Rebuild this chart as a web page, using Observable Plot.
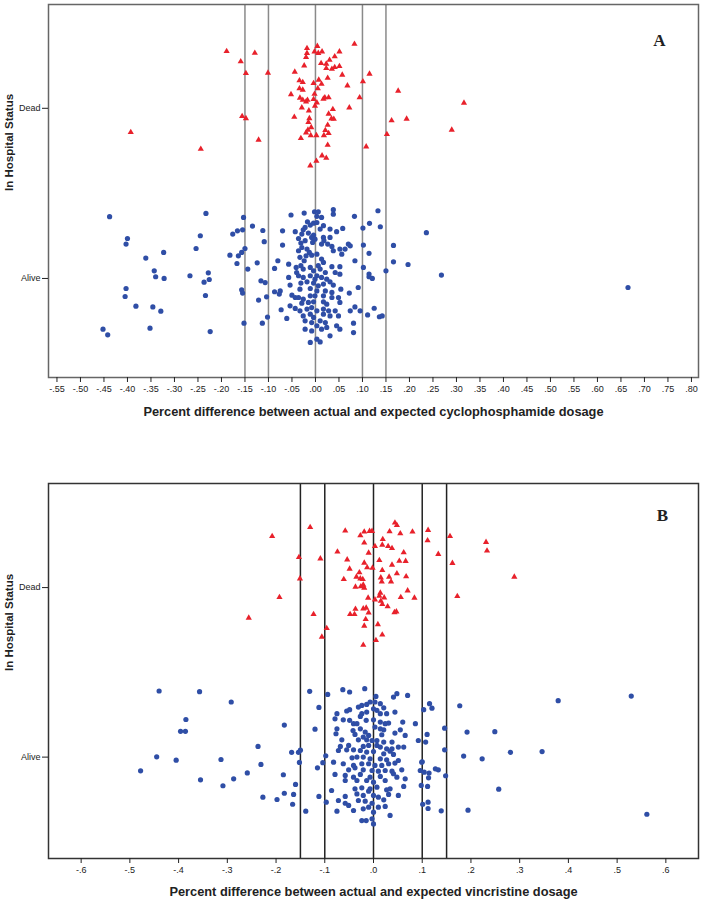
<!DOCTYPE html>
<html><head><meta charset="utf-8">
<script src="https://cdn.jsdelivr.net/npm/d3@7"></script>
<script src="https://cdn.jsdelivr.net/npm/@observablehq/plot@0.6"></script>
<style>
body{margin:0;background:#fff;}
#chart svg{display:block;}
</style></head><body><div id="chart"></div>
<script>
const statusTicks = [0, 1];
const statusLabels = ["Alive", "Dead"];
const refLines = [-0.15, -0.10, 0, 0.10, 0.15];
const ticksA = [-0.55,-0.50,-0.45,-0.40,-0.35,-0.30,-0.25,-0.20,-0.15,-0.10,-0.05,0,0.05,0.10,0.15,0.20,0.25,0.30,0.35,0.40,0.45,0.50,0.55,0.60,0.65,0.70,0.75,0.80];
const ticksB = [-0.6,-0.5,-0.4,-0.3,-0.2,-0.1,0,0.1,0.2,0.3,0.4,0.5,0.6];
const titleA = "Percent difference between actual and expected cyclophosphamide dosage";
const titleB = "Percent difference between actual and expected vincristine dosage";
const yTitle = "In Hospital Status";

// [value, jitter within status band]
const deadA = [[-0.189,0.335],[-0.129,0.325],[-0.159,0.275],[-0.148,0.206],[-0.101,0.208],[-0.393,-0.141],[-0.244,-0.239],[-0.156,-0.047],[-0.148,-0.059],[-0.121,-0.186],[-0.044,0.214],[-0.052,0.082],[-0.045,-0.051],[-0.018,0.353],[-0.018,0.324],[-0.020,0.300],[-0.024,0.251],[0.004,0.365],[-0.002,0.333],[0.006,0.324],[0.014,0.333],[0.012,0.265],[0.023,0.261],[0.030,0.284],[0.041,0.304],[0.051,0.333],[0.023,0.235],[0.035,0.231],[0.041,0.241],[0.051,0.247],[0.057,0.196],[0.083,0.378],[-0.034,0.163],[-0.027,0.153],[-0.004,0.147],[0.007,0.167],[0.013,0.143],[0.026,0.178],[-0.034,0.116],[-0.027,0.108],[0.005,0.116],[-0.002,0.084],[-0.033,0.061],[-0.027,0.049],[-0.020,0.039],[-0.017,0.049],[-0.004,0.053],[0.003,0.033],[-0.001,0.014],[0.017,0.055],[0.020,0.063],[0.028,0.063],[-0.029,0.004],[-0.014,-0.014],[-0.013,-0.059],[-0.015,-0.082],[0.037,-0.006],[0.028,-0.033],[0.034,-0.061],[0.039,-0.063],[0.026,-0.098],[-0.009,-0.112],[-0.016,-0.127],[-0.020,-0.143],[-0.010,-0.159],[0.002,-0.159],[0.021,-0.129],[0.018,-0.159],[0.028,-0.147],[-0.031,-0.176],[0.026,-0.216],[0.014,-0.278],[0.023,-0.292],[0.002,-0.310],[-0.011,-0.337],[0.068,0.133],[0.072,0.004],[0.094,0.063],[0.101,0.157],[0.108,-0.225],[0.115,0.202],[0.176,0.102],[0.316,0.032],[0.162,-0.072],[0.194,-0.062],[0.152,-0.153],[0.290,-0.127]];

const aliveA = [[-0.438,0.363],[-0.233,0.382],[-0.400,0.235],[-0.403,0.202],[-0.323,0.153],[-0.245,0.251],[-0.254,0.176],[-0.361,0.120],[-0.343,0.045],[-0.340,0.010],[-0.322,0.000],[-0.267,0.016],[-0.228,0.033],[-0.226,-0.006],[-0.237,-0.022],[-0.403,-0.059],[-0.405,-0.106],[-0.234,-0.100],[-0.382,-0.163],[-0.346,-0.167],[-0.329,-0.192],[-0.452,-0.298],[-0.442,-0.331],[-0.352,-0.292],[-0.224,-0.312],[-0.153,0.359],[-0.176,0.261],[-0.166,0.280],[-0.155,0.286],[-0.134,0.308],[-0.112,0.282],[-0.109,0.216],[-0.182,0.137],[-0.164,0.133],[-0.157,0.153],[-0.150,0.176],[-0.167,0.088],[-0.144,0.055],[-0.124,0.092],[-0.116,-0.014],[-0.107,-0.024],[-0.157,-0.067],[-0.155,-0.086],[-0.121,-0.127],[-0.104,-0.108],[-0.102,-0.227],[-0.152,-0.263],[-0.113,-0.263],
[-0.052,0.373],[-0.024,0.384],[-0.002,0.392],[0.006,0.392],[0.038,0.404],[0.038,0.378],[0.083,0.365],[0.003,0.365],[0.013,0.359],[-0.017,0.333],[-0.004,0.325],[-0.011,0.314],[-0.022,0.300],[-0.026,0.286],[0.003,0.329],[0.017,0.310],[0.010,0.290],[-0.070,0.280],[-0.043,0.275],[0.031,0.290],[0.058,0.294],[0.045,0.275],[0.101,0.296],[-0.029,0.261],[-0.015,0.267],[-0.004,0.255],[-0.008,0.241],[-0.001,0.231],[0.017,0.241],[0.031,0.241],[-0.070,0.196],[-0.036,0.235],[-0.022,0.222],[-0.031,0.208],[-0.006,0.212],[0.018,0.222],[0.013,0.202],[0.026,0.202],[0.035,0.188],[0.070,0.202],[0.074,0.192],[0.063,0.173],[0.052,0.173],[0.102,0.196],[-0.029,0.182],[-0.036,0.163],[-0.018,0.173],[-0.013,0.153],[-0.020,0.133],[-0.008,0.137],[-0.033,0.124],[0.003,0.143],[0.056,0.143],[0.038,0.163],[-0.080,0.104],[-0.057,0.084],[-0.024,0.104],[0.013,0.114],[0.017,0.094],[0.084,0.104],[0.102,0.065],[-0.087,0.059],[-0.041,0.065],[-0.031,0.075],[-0.026,0.055],[-0.011,0.065],[0.006,0.075],[-0.004,0.045],[0.010,0.055],[0.035,0.069],[0.052,0.069],[0.021,0.035],[0.003,0.016],[-0.057,0.006],[-0.040,0.035],[-0.036,0.016],[-0.026,0.006],[-0.011,0.016],[-0.001,-0.004],[0.013,0.006],[0.024,-0.004],[0.042,0.035],[0.052,0.025],[-0.054,-0.039],[-0.031,-0.027],[-0.018,-0.020],[-0.004,-0.027],[0.006,-0.043],[0.017,-0.033],[0.031,-0.020],[0.038,-0.039],[-0.087,-0.078],[-0.075,-0.073],[-0.077,-0.092],[-0.033,-0.063],[-0.011,-0.059],[0.003,-0.073],[0.021,-0.073],[0.035,-0.082],[0.054,-0.063],[0.072,-0.086],[0.091,-0.053],[-0.050,-0.098],[-0.043,-0.112],[-0.036,-0.112],[-0.026,-0.122],[-0.011,-0.102],[-0.001,-0.102],[0.017,-0.102],[0.035,-0.112],[0.049,-0.112],[-0.029,-0.145],[-0.015,-0.141],[-0.004,-0.137],[0.017,-0.137],[0.024,-0.151],[0.052,-0.141],[0.074,-0.190],[-0.054,-0.161],[-0.043,-0.176],[-0.033,-0.190],[-0.018,-0.180],[-0.008,-0.171],[0.003,-0.190],[0.017,-0.180],[0.028,-0.190],[0.042,-0.190],[0.084,-0.167],[-0.073,-0.184],[-0.061,-0.235],[-0.026,-0.220],[-0.011,-0.210],[-0.004,-0.229],[0.017,-0.210],[0.031,-0.220],[0.049,-0.220],[0.095,-0.190],[-0.022,-0.249],[-0.008,-0.259],[0.010,-0.249],[0.021,-0.259],[0.003,-0.278],[0.045,-0.278],[0.081,-0.263],[-0.022,-0.298],[-0.008,-0.308],[0.013,-0.298],[0.024,-0.288],[0.031,-0.337],[0.052,-0.298],[-0.011,-0.376],[0.003,-0.357],[0.010,-0.373],[0.081,-0.318],
[0.133,0.398],[0.115,0.324],[0.138,0.304],[0.236,0.269],[0.114,0.147],[0.166,0.194],[0.166,0.098],[0.197,0.082],[0.150,0.045],[0.114,0.026],[0.114,0.010],[0.121,0.000],[0.268,0.020],[0.665,-0.053],[0.111,-0.214],[0.125,-0.175],[0.136,-0.225],[0.142,-0.220]];

const deadB = [[-0.208,0.303],[-0.130,0.356],[-0.058,0.335],[-0.027,0.307],[-0.019,0.329],[-0.008,0.333],[-0.019,0.264],[-0.074,0.211],[-0.153,0.179],[-0.109,0.171],[-0.010,0.205],[-0.054,0.165],[-0.019,0.146],[-0.013,0.118],[-0.049,0.110],[-0.029,0.089],[-0.035,0.063],[-0.027,0.053],[-0.022,0.049],[-0.061,0.049],[-0.151,0.053],[-0.037,0.004],[-0.026,0.006],[-0.021,0.016],[-0.019,-0.002],[-0.193,-0.057],[-0.011,-0.061],[-0.256,-0.179],[-0.123,-0.157],[-0.048,-0.157],[-0.039,-0.157],[-0.037,-0.126],[-0.021,-0.124],[-0.015,-0.120],[-0.010,-0.148],[-0.016,-0.187],[-0.019,-0.226],[-0.096,-0.240],[-0.106,-0.291],[-0.021,-0.339],
[-0.003,0.333],[0.044,0.382],[0.048,0.368],[0.033,0.331],[0.055,0.319],[0.080,0.329],[0.112,0.339],[0.111,0.278],[0.157,0.303],[0.231,0.268],[0.233,0.217],[0.019,0.285],[0.003,0.244],[0.018,0.252],[0.030,0.244],[0.038,0.232],[0.062,0.207],[0.133,0.197],[0.012,0.161],[0.053,0.157],[0.066,0.156],[0.038,0.134],[0.162,0.144],[-0.002,0.116],[0.018,0.102],[0.048,0.083],[0.067,0.065],[0.015,0.059],[0.032,0.063],[0.017,0.035],[0.036,0.035],[0.289,0.063],[0.070,-0.018],[0.014,-0.031],[0.012,-0.049],[0.022,-0.059],[0.003,-0.071],[0.056,-0.057],[0.084,-0.061],[0.015,-0.079],[0.018,-0.098],[0.029,-0.112],[0.043,-0.146],[0.047,-0.142],[0.172,-0.051],[0.009,-0.217],[0.018,-0.278],[0.005,-0.311]];

const aliveB = [[-0.440,0.390],[-0.357,0.386],[-0.292,0.325],[-0.385,0.222],[-0.396,0.152],[-0.386,0.152],[-0.445,0.002],[-0.405,-0.018],[-0.478,-0.081],[-0.313,-0.014],[-0.355,-0.134],[-0.309,-0.169],[-0.287,-0.128],[-0.259,-0.093],[-0.237,0.063],[-0.231,-0.043],[-0.183,0.189],[-0.168,0.028],[-0.154,0.028],[-0.150,0.041],[-0.152,-0.031],[-0.185,-0.104],[-0.160,-0.161],[-0.227,-0.236],[-0.198,-0.250],[-0.183,-0.213],[-0.164,-0.220],[-0.166,-0.278],[-0.139,-0.319],[-0.131,0.388],[-0.112,0.293],[-0.120,0.165],[-0.098,0.008],[-0.104,-0.033],[-0.115,-0.063],[-0.112,-0.232],[-0.097,-0.266],[-0.094,0.370],
[-0.063,0.398],[-0.049,0.384],[-0.018,0.404],[0.005,0.358],[0.041,0.354],[0.048,0.374],[0.070,0.364],[-0.075,0.256],[-0.055,0.272],[-0.049,0.280],[-0.031,0.295],[-0.024,0.305],[-0.014,0.311],[-0.007,0.325],[0.003,0.325],[0.014,0.315],[0.021,0.291],[0.007,0.276],[0.000,0.285],[-0.014,0.266],[-0.024,0.256],[-0.027,0.240],[0.014,0.256],[0.027,0.256],[0.044,0.266],[-0.079,0.226],[-0.062,0.220],[-0.049,0.217],[-0.041,0.197],[-0.034,0.197],[-0.015,0.217],[0.000,0.220],[0.014,0.207],[0.024,0.197],[0.031,0.201],[0.060,0.207],[0.086,0.197],[-0.075,0.167],[-0.042,0.157],[-0.027,0.167],[-0.017,0.148],[0.003,0.177],[0.014,0.167],[0.021,0.161],[0.055,0.161],[-0.077,0.138],[-0.038,0.134],[-0.021,0.118],[-0.010,0.128],[0.017,0.132],[0.044,0.142],[0.065,0.128],[-0.065,0.102],[-0.031,0.102],[-0.014,0.102],[-0.003,0.098],[0.007,0.098],[0.021,0.089],[0.038,0.089],[0.092,0.098],[-0.068,0.063],[-0.051,0.069],[-0.041,0.043],[-0.021,0.063],[-0.010,0.069],[0.007,0.069],[0.014,0.059],[0.027,0.049],[0.038,0.049],[0.051,0.059],[0.062,0.059],[-0.072,0.039],[-0.055,0.043],[-0.027,0.039],[-0.014,0.030],[0.000,0.033],[0.021,0.020],[0.034,0.035],[0.041,0.016],[-0.044,-0.004],[-0.034,0.000],[-0.021,0.000],[-0.007,-0.010],[0.014,-0.010],[0.027,-0.016],[0.051,-0.020],[-0.082,-0.030],[-0.062,-0.039],[-0.041,-0.049],[-0.024,-0.039],[-0.010,-0.039],[0.003,-0.049],[0.017,-0.049],[0.031,-0.039],[0.044,-0.035],[0.099,-0.030],[-0.051,-0.075],[-0.038,-0.063],[-0.021,-0.075],[-0.003,-0.079],[0.010,-0.083],[0.024,-0.079],[0.038,-0.083],[0.058,-0.075],[0.096,-0.079],[-0.079,-0.102],[-0.058,-0.108],[-0.041,-0.118],[-0.027,-0.102],[-0.007,-0.118],[0.014,-0.114],[0.041,-0.098],[0.048,-0.118],[0.065,-0.128],[-0.058,-0.138],[-0.034,-0.138],[-0.014,-0.138],[0.000,-0.148],[0.024,-0.138],[0.062,-0.173],[-0.038,-0.187],[-0.024,-0.181],[-0.007,-0.187],[0.007,-0.177],[0.027,-0.193],[0.034,-0.187],[-0.086,-0.197],[-0.058,-0.232],[-0.034,-0.217],[-0.021,-0.226],[-0.010,-0.201],[0.000,-0.226],[0.010,-0.236],[0.031,-0.220],[0.051,-0.226],[-0.072,-0.256],[-0.058,-0.272],[-0.051,-0.285],[-0.031,-0.256],[-0.017,-0.260],[-0.003,-0.272],[0.021,-0.252],[0.024,-0.291],[-0.075,-0.319],[-0.041,-0.315],[-0.021,-0.305],[-0.010,-0.295],[0.000,-0.325],[0.010,-0.295],[-0.024,-0.374],[-0.015,-0.374],[-0.003,-0.364],[0.034,-0.344],[0.000,-0.394],
[0.103,0.280],[0.115,0.315],[0.120,0.289],[0.177,0.303],[0.379,0.333],[0.529,0.360],[0.146,0.171],[0.110,0.134],[0.107,0.089],[0.192,0.148],[0.249,0.150],[0.146,0.043],[0.185,0.006],[0.223,-0.010],[0.281,0.028],[0.346,0.033],[0.100,-0.028],[0.104,-0.089],[0.114,-0.094],[0.113,-0.122],[0.127,-0.069],[0.133,-0.075],[0.148,-0.110],[0.098,-0.167],[0.111,-0.173],[0.257,-0.189],[0.101,-0.278],[0.112,-0.266],[0.112,-0.303],[0.139,-0.317],[0.194,-0.313],[0.561,-0.337]];

const fmt = (digits) => (d) => d3.format(`.${digits}f`)(d).replace("\u2212", "-").replace(/^(-?)0\./, "$1.");
const SANS = "'Liberation Sans', Arial, sans-serif";

function panel(o) {
  const alive = o.alive.map(([x, j]) => ({x, y: statusTicks[0] + j}));
  const dead = o.dead.map(([x, j]) => ({x, y: statusTicks[1] + j}));
  return Plot.plot({
    width: 702, height: o.height,
    marginTop: o.marginTop, marginBottom: o.marginBottom, marginLeft: 48, marginRight: 4,
    x: {domain: o.xDomain, label: null},
    y: {domain: o.yDomain, label: null},
    style: {fontFamily: SANS, color: "#222", background: "#fff", overflow: "visible"},
    marks: [
      Plot.ruleX(refLines, {stroke: o.ruleColor, strokeWidth: 1.5}),
      Plot.dot(alive, {x: "x", y: "y", r: 2.6, fill: "#2f4ea6", symbol: "circle"}),
      Plot.dot(dead, {x: "x", y: "y", r: 2.3, fill: "#e8212b", symbol: "triangle"}),
      Plot.frame({stroke: o.frameColor, strokeWidth: 1.5}),
      Plot.axisX({ticks: o.ticks, tickFormat: fmt(o.digits), tickSize: 5, tickPadding: 3, fontSize: 9, label: null}),
      Plot.axisY({ticks: statusTicks, tickFormat: d => statusLabels[d], tickSize: 6, tickPadding: 2, fontSize: 9, label: null}),
      Plot.text([o.title], {text: d => d, frameAnchor: "bottom", dy: o.titleDy, fontWeight: "bold", fontSize: o.titleSize, lineAnchor: "middle"}),
      Plot.text([yTitle], {text: d => d, frameAnchor: "left", dx: -39, rotate: -90, fontWeight: "bold", fontSize: 11.5, lineAnchor: "middle"}),
      Plot.text([o.letter], {text: d => d, frameAnchor: "top-right", dx: o.letterDx, dy: o.letterDy, fontFamily: "'Liberation Serif', 'Times New Roman', serif", fontWeight: "bold", fontSize: 17, textAnchor: "middle", lineAnchor: "middle"})
    ]
  });
}

const root = document.getElementById("chart");
root.append(panel({
  alive: aliveA, dead: deadA, xDomain: [-0.568, 0.815], yDomain: [-0.582, 1.61],
  ticks: ticksA, digits: 2, title: titleA, titleSize: 12.8, letter: "A",
  height: 440, marginTop: 4, marginBottom: 63, titleDy: 34, letterDx: -39, letterDy: 36,
  ruleColor: "#8a8a8a", frameColor: "#666"
}));
root.append(panel({
  alive: aliveB, dead: deadB, xDomain: [-0.667, 0.667], yDomain: [-0.598, 1.614],
  ticks: ticksB, digits: 1, title: titleB, titleSize: 12.8, letter: "B",
  height: 460, marginTop: 43, marginBottom: 42, titleDy: 33, letterDx: -36, letterDy: 32,
  ruleColor: "#222", frameColor: "#333"
}));
</script></body></html>
